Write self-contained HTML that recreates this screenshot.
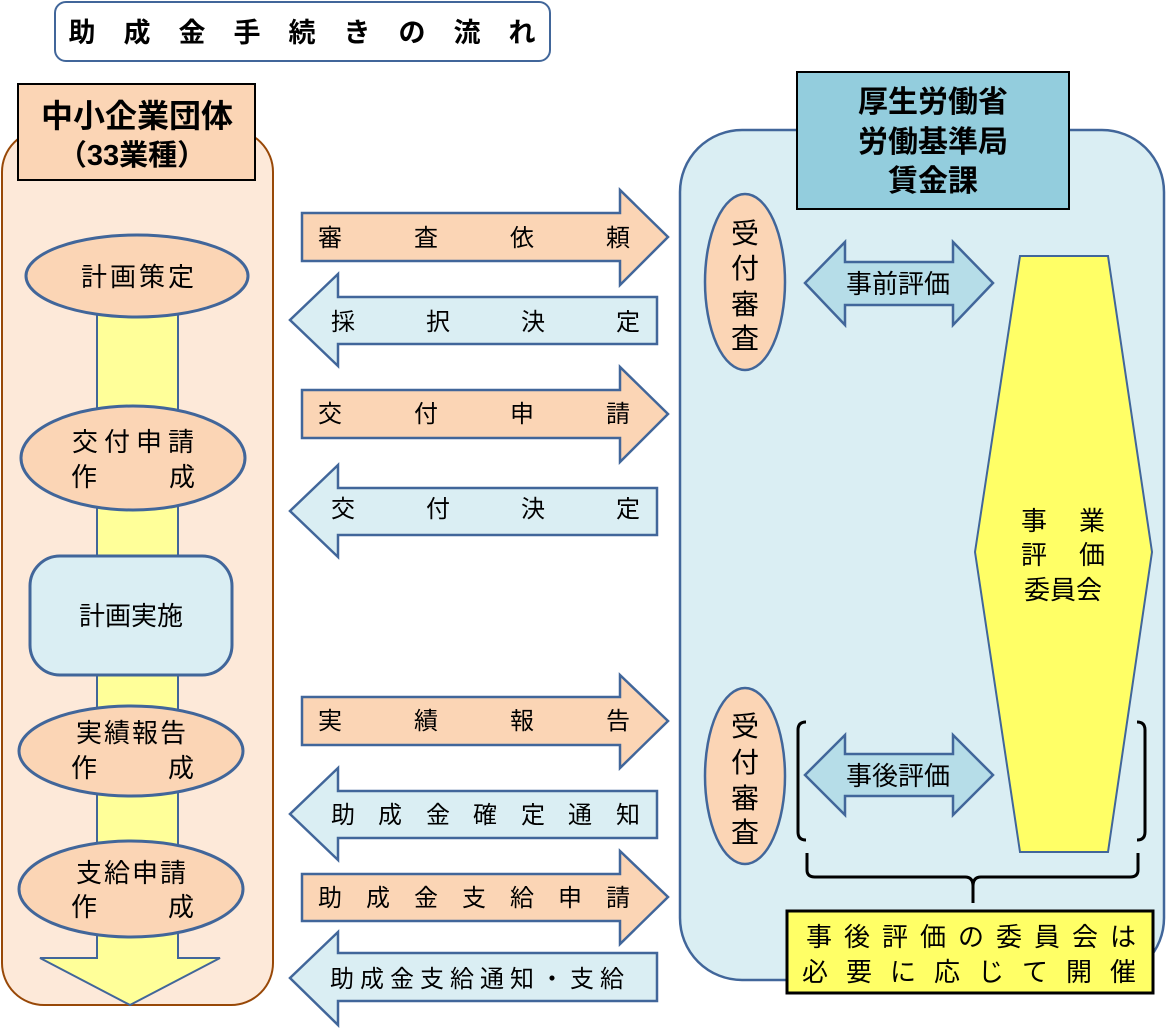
<!DOCTYPE html>
<html><head><meta charset="utf-8"><style>html,body{margin:0;padding:0;background:#fff}svg{display:block}text{font-family:"Liberation Sans","Noto Sans CJK JP",sans-serif;fill:#000}</style></head>
<body>
<svg width="1166" height="1029" viewBox="0 0 1166 1029" xmlns="http://www.w3.org/2000/svg">
<!-- title -->
<rect x="55" y="2" width="495" height="59" rx="11" fill="#fff" stroke="#41669a" stroke-width="2"/>
<text x="316" y="42" font-size="27" font-weight="bold" text-anchor="middle" letter-spacing="28">助成金手続きの流れ</text>

<!-- left panel -->
<rect x="2" y="130" width="271" height="875" rx="42" fill="#fde9d9" stroke="#984807" stroke-width="2"/>
<rect x="18" y="84" width="237" height="96" fill="#fbd5b5" stroke="#000" stroke-width="2"/>
<text x="137" y="127" font-size="32" font-weight="bold" text-anchor="middle">中小企業団体</text>
<text x="132" y="165" font-size="29" font-weight="bold" text-anchor="middle">（33業種）</text>

<!-- yellow flow bar -->
<path d="M97,300 H178 V958 H220 L130,1005 L40,958 H97 Z" fill="#ffff99" stroke="#41669a" stroke-width="2"/>

<ellipse cx="137" cy="276" rx="111" ry="41" fill="#fbd5b5" stroke="#41669a" stroke-width="3"/>
<text x="139" y="286" font-size="26" text-anchor="middle" letter-spacing="3">計画策定</text>

<ellipse cx="133" cy="458" rx="112" ry="52" fill="#fbd5b5" stroke="#41669a" stroke-width="3"/>
<text x="136" y="451" font-size="26" text-anchor="middle" letter-spacing="6">交付申請</text>
<text x="84" y="486" font-size="26" text-anchor="middle">作</text>
<text x="182" y="486" font-size="26" text-anchor="middle">成</text>

<rect x="30" y="556" width="202" height="119" rx="30" fill="#daeef3" stroke="#41669a" stroke-width="3"/>
<text x="131" y="625" font-size="26" text-anchor="middle">計画実施</text>

<ellipse cx="131" cy="751" rx="112" ry="45" fill="#fbd5b5" stroke="#41669a" stroke-width="3"/>
<text x="132" y="742" font-size="26" text-anchor="middle" letter-spacing="2">実績報告</text>
<text x="84" y="777" font-size="26" text-anchor="middle">作</text>
<text x="181" y="777" font-size="26" text-anchor="middle">成</text>

<ellipse cx="131" cy="889" rx="112" ry="48" fill="#fbd5b5" stroke="#41669a" stroke-width="3"/>
<text x="132" y="882" font-size="26" text-anchor="middle" letter-spacing="2">支給申請</text>
<text x="84" y="916" font-size="26" text-anchor="middle">作</text>
<text x="181" y="916" font-size="26" text-anchor="middle">成</text>

<!-- right arrows -->
<g fill="#fbd5b5" stroke="#41669a" stroke-width="2.5">
<path d="M302,213 H620 V190 L668,237 L620,285 V261 H302 Z"/>
<path d="M302,390 H620 V367 L668,414 L620,462 V438 H302 Z"/>
<path d="M302,697 H620 V675 L668,721 L620,768 V745 H302 Z"/>
<path d="M302,874 H620 V851 L668,897 L620,944 V921 H302 Z"/>
</g>
<!-- left arrows -->
<g fill="#daeef3" stroke="#41669a" stroke-width="2.5">
<path d="M657,297 H338 V274 L290,320 L338,366 V344 H657 Z"/>
<path d="M657,488 H338 V465 L290,511 L338,557 V535 H657 Z"/>
<path d="M657,791 H338 V768 L290,814 L338,860 V838 H657 Z"/>
<path d="M657,953 H338 V932 L290,978 L338,1025 V1001 H657 Z"/>
</g>
<g font-size="24" text-anchor="middle">
<text x="330" y="246">審</text><text x="426" y="246">査</text><text x="522" y="246">依</text><text x="618" y="246">頼</text>
<text x="343" y="330">採</text><text x="438" y="330">択</text><text x="533" y="330">決</text><text x="628" y="330">定</text>
<text x="330" y="422">交</text><text x="426" y="422">付</text><text x="522" y="422">申</text><text x="618" y="422">請</text>
<text x="343" y="517">交</text><text x="438" y="517">付</text><text x="533" y="517">決</text><text x="628" y="517">定</text>
<text x="330" y="729">実</text><text x="426" y="729">績</text><text x="522" y="729">報</text><text x="618" y="729">告</text>
<text x="343" y="823">助</text><text x="390" y="823">成</text><text x="438" y="823">金</text><text x="485" y="823">確</text><text x="533" y="823">定</text><text x="580" y="823">通</text><text x="628" y="823">知</text>
<text x="330" y="906">助</text><text x="378" y="906">成</text><text x="426" y="906">金</text><text x="474" y="906">支</text><text x="522" y="906">給</text><text x="570" y="906">申</text><text x="618" y="906">請</text>
</g>
<text x="330" y="987" font-size="24" letter-spacing="6">助成金支給通知・支給</text>

<!-- right panel -->
<rect x="680" y="130" width="484" height="850" rx="62" fill="#daeef3" stroke="#41669a" stroke-width="2.5"/>
<rect x="797" y="72" width="272" height="137" fill="#93cddd" stroke="#000" stroke-width="2"/>
<g font-size="30" font-weight="bold" text-anchor="middle">
<text x="933" y="112">厚生労働省</text>
<text x="933" y="152">労働基準局</text>
<text x="933" y="191">賃金課</text>
</g>

<ellipse cx="745" cy="282" rx="40" ry="88" fill="#fbd5b5" stroke="#41669a" stroke-width="2.5"/>
<ellipse cx="745" cy="776" rx="40" ry="88" fill="#fbd5b5" stroke="#41669a" stroke-width="2.5"/>
<g font-size="28" text-anchor="middle">
<text x="745" y="243">受</text><text x="745" y="278">付</text><text x="745" y="314">審</text><text x="745" y="348">査</text>
<text x="745" y="736">受</text><text x="745" y="772">付</text><text x="745" y="808">審</text><text x="745" y="842">査</text>
</g>

<g fill="#b6dde8" stroke="#41669a" stroke-width="2.5">
<path d="M805,283 L845,242 V262 H953 V242 L993,283 L953,325 V305 H845 V325 Z"/>
<path d="M805,775 L845,735 V754 H953 V735 L993,775 L953,815 V796 H845 V815 Z"/>
</g>
<text x="898" y="293" font-size="26" text-anchor="middle">事前評価</text>
<text x="898" y="785" font-size="26" text-anchor="middle">事後評価</text>

<path d="M1020,256 H1108 L1152,552 L1108,852 H1020 L975,552 Z" fill="#ffff66" stroke="#41669a" stroke-width="2"/>
<g font-size="26" text-anchor="middle">
<text x="1034" y="530">事</text><text x="1092" y="530">業</text>
<text x="1034" y="564">評</text><text x="1092" y="564">価</text>
<text x="1063" y="599">委員会</text>
</g>

<!-- brackets -->
<g fill="none" stroke="#000" stroke-width="3">
<path d="M806,722 Q798,722 798,730 V832 Q798,840 806,840"/>
<path d="M1137,722 Q1145,722 1145,730 V832 Q1145,840 1137,840"/>
<path d="M807,853 V870 Q807,877 815,877 H965 Q973,877 973,886 V903 M973,886 Q973,877 981,877 H1130 Q1138,877 1138,870 V853"/>
</g>

<rect x="787" y="911" width="366" height="82" fill="#ffff66" stroke="#000" stroke-width="3"/>
<text x="977" y="946" font-size="26" text-anchor="middle" letter-spacing="12">事後評価の委員会は</text>
<text x="978" y="981" font-size="26" text-anchor="middle" letter-spacing="18">必要に応じて開催</text>
</svg>
</body></html>
